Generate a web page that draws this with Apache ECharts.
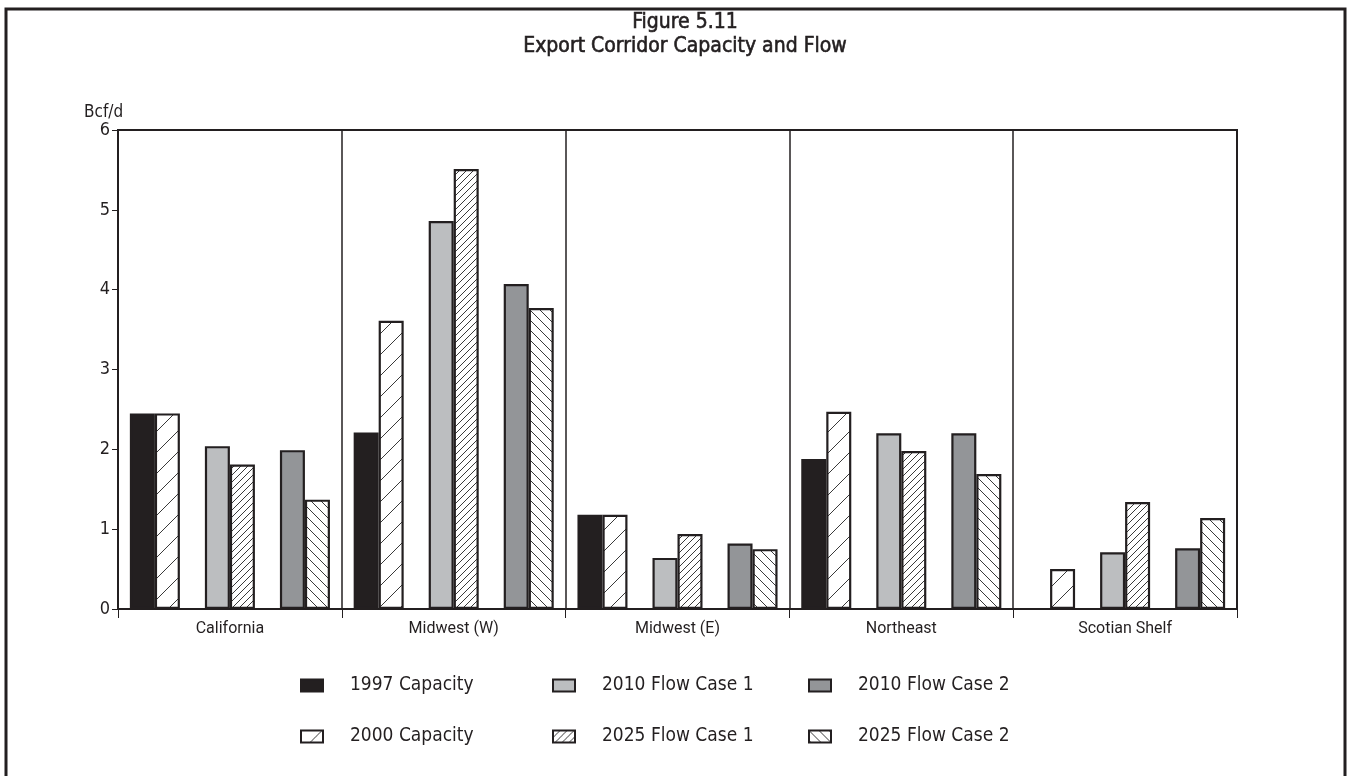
<!DOCTYPE html>
<html><head><meta charset="utf-8">
<script src="https://cdn.jsdelivr.net/npm/echarts@6/dist/echarts.min.js"></script>
<style>html,body{margin:0;padding:0;background:#fff}#c{width:1349px;height:776px}</style>
</head><body><div id="c"></div>
<script>
const categories = ['California', 'Midwest (W)', 'Midwest (E)', 'Northeast', 'Scotian Shelf'];
const cap1997    = [2.45, 2.21, 1.18, 1.88, null];
const cap2000    = [2.45, 3.61, 1.18, 2.47, 0.50];
const flow2010c1 = [2.04, 4.86, 0.64, 2.20, 0.71];
const flow2025c1 = [1.81, 5.51, 0.94, 1.98, 1.34];
const flow2010c2 = [1.99, 4.07, 0.82, 2.20, 0.76];
const flow2025c2 = [1.37, 3.77, 0.75, 1.69, 1.14];
const yTicks = [0, 1, 2, 3, 4, 5, 6];
const titleLines = ['Figure 5.11', 'Export Corridor Capacity and Flow'];
const yUnit = 'Bcf/d';

const INK = '#231f20';
function hatch(s, dir, lw) {
  const c = document.createElement('canvas');
  c.width = s; c.height = s;
  const ctx = c.getContext('2d');
  ctx.fillStyle = '#ffffff'; ctx.fillRect(0, 0, s, s);
  ctx.strokeStyle = '#3a3a3a'; ctx.lineWidth = lw;
  ctx.beginPath();
  for (const x0 of [-s, 0, s]) {
    if (dir === '/') { ctx.moveTo(x0, s); ctx.lineTo(x0 + s, 0); }
    else { ctx.moveTo(x0, 0); ctx.lineTo(x0 + s, s); }
  }
  ctx.stroke();
  return { image: c, repeat: 'repeat' };
}

const FONT = '"Liberation Sans Narrow", "DejaVu Sans Condensed", sans-serif';
const chart = echarts.init(document.getElementById('c'), null, { renderer: 'canvas' });

const bw = 2.2;
function barSeries(name, data, color) {
  return {
    name, type: 'bar', data, barGap: '0%', barCategoryGap: '10.6%',
    itemStyle: { color, borderColor: INK, borderWidth: bw },
    emphasis: { disabled: true }
  };
}
const series = [
  barSeries('1997 Capacity', cap1997, INK),
  barSeries('2000 Capacity', cap2000, hatch(21, '/', 1)),
  barSeries('_gap1', categories.map(() => null), 'transparent'),
  barSeries('2010 Flow Case 1', flow2010c1, '#bcbec0'),
  barSeries('2025 Flow Case 1', flow2025c1, hatch(7, '/', 1)),
  barSeries('_gap2', categories.map(() => null), 'transparent'),
  barSeries('2010 Flow Case 2', flow2010c2, '#939598'),
  barSeries('2025 Flow Case 2', flow2025c2, hatch(10, '\\', 1))
];

const legendPos = [
  ['1997 Capacity', 295, 671], ['2010 Flow Case 1', 547, 671], ['2010 Flow Case 2', 803, 671],
  ['2000 Capacity', 295, 722], ['2025 Flow Case 1', 547, 722], ['2025 Flow Case 2', 803, 722]
];
const legends = legendPos.map(([n, x, y]) => ({
  data: [n], left: x, top: y, itemWidth: 22, itemHeight: 12, icon: 'rect',
  selectedMode: false,
  itemStyle: { borderColor: INK, borderWidth: 2 },
  textStyle: { fontFamily: FONT, fontSize: 19, color: INK, padding: [0, 0, 0, 22] }
}));

chart.setOption({
  animation: false,
  backgroundColor: '#fff',
  title: {
    text: titleLines.join('\n'), left: 680, top: 6, textAlign: 'center',
    textStyle: { fontFamily: FONT, fontSize: 21, fontWeight: 'normal', color: INK, lineHeight: 24,
      textBorderColor: INK, textBorderWidth: 0.6 }
  },
  legend: legends,
  grid: { left: 118, right: 112, top: 130, bottom: 167, show: true, borderColor: INK, borderWidth: 2, backgroundColor: 'transparent' },
  xAxis: {
    type: 'category', data: categories,
    axisLine: { lineStyle: { color: INK, width: 2 } },
    axisTick: { show: true, length: 9, lineStyle: { color: INK, width: 1 } },
    splitLine: { show: true, lineStyle: { color: INK, width: 1.5 } },
    axisLabel: { fontFamily: 'Roboto, sans-serif', fontSize: 16, color: INK, margin: 12 }
  },
  yAxis: {
    type: 'value', min: 0, max: 6, interval: 1,
    axisLine: { show: true, lineStyle: { color: INK, width: 2 } },
    axisTick: { show: true, length: 6, lineStyle: { color: INK, width: 1 } },
    splitLine: { show: false },
    axisLabel: { fontFamily: FONT, fontSize: 18, color: INK, margin: 8,
      formatter: v => yTicks.includes(v) ? String(v) : '' }
  },
  graphic: [
    { type: 'rect', shape: { x: 6, y: 9, width: 1339, height: 790 }, style: { fill: 'none', stroke: INK, lineWidth: 3 }, silent: true },
    { type: 'text', left: 84, top: 104, style: { text: yUnit, font: '17px ' + FONT, fill: INK } }
  ],
  series
});
</script></body></html>
